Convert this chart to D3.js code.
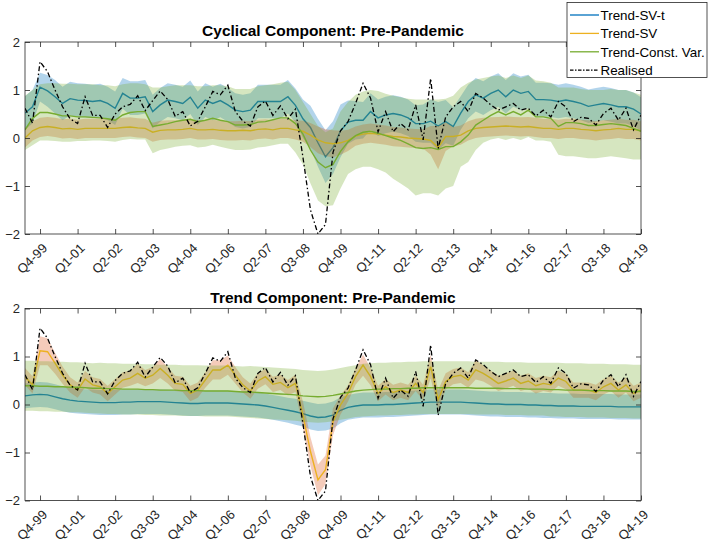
<!DOCTYPE html>
<html><head><meta charset="utf-8">
<script src="https://cdn.jsdelivr.net/npm/d3@7"></script>
<style>
body{margin:0;background:#fff}
svg{display:block}
text{font-family:"Liberation Sans",Arial,Helvetica,sans-serif}
</style>
</head><body>
<svg id="chart" width="708" height="544"></svg>
<script>
// quarters indexed 0..82 : Q2-99 .. Q4-19
const tickIndex = [2,7,12,17,22,27,32,37,42,47,52,57,62,67,72,77,82];
const tickLabels = ["Q4-99","Q1-01","Q2-02","Q3-03","Q4-04","Q1-06","Q2-07","Q3-08","Q4-09","Q1-11","Q2-12","Q3-13","Q4-14","Q1-16","Q2-17","Q3-18","Q4-19"];
const yTicks = [-2,-1,0,1,2];
const seriesNames = ["Trend-SV-t","Trend-SV","Trend-Const. Var.","Realised"];

const realised = [0.62,0.31,1.59,1.38,1.0,0.65,0.4,0.3,0.86,0.47,
 0.47,0.22,0.5,0.65,0.7,0.88,0.57,0.78,0.98,0.8,
 0.45,0.55,0.25,0.35,0.65,0.97,0.9,1.1,0.55,0.35,
 0.25,0.65,0.77,0.47,0.67,0.4,0.6,-0.4,-1.5,-2.0,
 -1.8,-0.3,0.15,0.34,0.72,1.14,0.83,0.13,0.55,0.13,
 0.3,0.17,0.69,-0.04,1.24,-0.22,0.44,0.65,0.76,0.55,
 0.93,0.83,0.69,0.58,0.65,0.72,0.58,0.62,0.46,0.58,
 0.44,0.76,0.65,0.34,0.43,0.41,0.27,0.51,0.62,0.37,
 0.62,0.17,0.48];

// ---- Cyclical component ----
const cycSVt = [0.52,0.65,1.06,0.98,0.86,0.72,0.82,0.79,0.78,0.76,
 0.78,0.72,0.62,0.93,0.83,0.83,0.86,0.55,0.69,0.79,
 0.76,0.72,0.85,0.62,0.79,0.72,0.78,0.69,0.58,0.55,
 0.58,0.76,0.76,0.76,0.76,0.86,0.68,0.4,0.22,-0.1,
 -0.39,-0.2,0.15,0.33,0.37,0.37,0.55,0.42,0.48,0.51,
 0.48,0.42,0.3,0.3,0.35,0.25,0.34,0.24,0.52,0.76,
 0.9,0.83,0.93,1.0,0.86,1.0,0.93,0.97,0.8,0.8,
 0.79,0.76,0.79,0.76,0.72,0.66,0.69,0.72,0.69,0.65,
 0.65,0.6,0.5];
const cycSVtHW = [0.35,0.35,0.3,0.33,0.35,0.35,0.35,0.35,0.35,0.35,
 0.35,0.35,0.35,0.32,0.35,0.35,0.35,0.35,0.35,0.35,
 0.35,0.35,0.35,0.35,0.35,0.35,0.35,0.35,0.35,0.35,
 0.35,0.35,0.35,0.35,0.35,0.35,0.35,0.4,0.45,0.5,
 0.55,0.55,0.55,0.45,0.4,0.38,0.38,0.38,0.38,0.38,
 0.38,0.38,0.38,0.4,0.45,0.5,0.45,0.4,0.35,0.35,
 0.35,0.35,0.35,0.35,0.35,0.35,0.35,0.35,0.35,0.35,
 0.35,0.35,0.35,0.35,0.35,0.35,0.35,0.35,0.35,0.35,
 0.35,0.35,0.35];
const cycSV = [0.0,0.15,0.22,0.24,0.22,0.19,0.2,0.18,0.2,0.2,
 0.2,0.2,0.2,0.22,0.23,0.21,0.2,0.12,0.16,0.17,
 0.17,0.18,0.2,0.17,0.17,0.18,0.16,0.15,0.15,0.16,
 0.15,0.18,0.19,0.17,0.2,0.2,0.17,0.14,0.06,-0.04,
 -0.1,-0.12,-0.1,-0.05,0.04,0.08,0.1,0.08,0.06,0.03,
 0.02,0.0,-0.01,-0.02,-0.05,-0.2,0.03,0.03,0.06,0.15,
 0.2,0.22,0.23,0.24,0.25,0.24,0.23,0.24,0.22,0.2,
 0.2,0.18,0.2,0.2,0.18,0.17,0.15,0.17,0.18,0.2,
 0.18,0.18,0.15];
const cycSVHW = [0.2,0.2,0.2,0.2,0.2,0.2,0.2,0.2,0.2,0.2,
 0.2,0.2,0.2,0.2,0.2,0.2,0.2,0.2,0.2,0.2,
 0.2,0.2,0.2,0.2,0.2,0.2,0.2,0.2,0.2,0.2,
 0.2,0.2,0.2,0.2,0.2,0.2,0.2,0.22,0.25,0.28,
 0.28,0.28,0.25,0.22,0.2,0.2,0.2,0.2,0.2,0.2,
 0.2,0.2,0.2,0.2,0.3,0.45,0.3,0.2,0.2,0.2,
 0.2,0.2,0.2,0.2,0.2,0.2,0.2,0.2,0.2,0.2,
 0.2,0.2,0.2,0.2,0.2,0.2,0.2,0.2,0.2,0.2,
 0.2,0.2,0.2];
const cycCV = [0.17,0.41,0.53,0.53,0.5,0.46,0.46,0.44,0.44,0.43,
 0.42,0.4,0.37,0.48,0.53,0.55,0.55,0.24,0.27,0.3,
 0.34,0.37,0.39,0.34,0.37,0.41,0.37,0.34,0.27,0.27,
 0.28,0.33,0.34,0.38,0.42,0.42,0.3,0.08,-0.25,-0.5,
 -0.62,-0.55,-0.28,-0.08,0.05,0.12,0.14,0.1,0.05,0.0,
 -0.05,-0.12,-0.2,-0.22,-0.2,-0.24,-0.18,-0.18,-0.08,0.06,
 0.27,0.37,0.47,0.55,0.48,0.55,0.48,0.58,0.44,0.44,
 0.41,0.24,0.32,0.32,0.3,0.26,0.26,0.28,0.3,0.28,
 0.26,0.2,0.14];
const cycCVHi = [0.88,1.0,1.12,1.14,1.14,1.13,1.13,1.12,1.12,1.12,
 1.1,1.1,1.08,1.12,1.14,1.14,1.12,1.05,1.05,1.08,
 1.1,1.1,1.1,1.08,1.08,1.1,1.1,1.08,1.02,1.02,
 1.02,1.08,1.1,1.12,1.15,1.17,1.0,0.75,0.5,0.25,
 0.12,0.2,0.55,0.75,0.9,0.97,1.0,0.98,0.92,0.88,
 0.85,0.82,0.8,0.8,0.8,0.8,0.82,0.88,1.05,1.15,
 1.22,1.25,1.28,1.3,1.25,1.3,1.25,1.3,1.2,1.18,
 1.15,1.05,1.05,1.05,1.02,1.0,1.0,1.0,1.02,1.0,
 1.0,0.95,0.9];
const cycCVLo = [-0.25,-0.15,-0.05,-0.05,-0.06,-0.08,-0.08,-0.06,-0.06,-0.05,
 -0.05,-0.06,-0.08,-0.04,-0.02,-0.03,-0.03,-0.32,-0.25,-0.22,
 -0.18,-0.16,-0.15,-0.2,-0.18,-0.14,-0.18,-0.22,-0.25,-0.25,
 -0.24,-0.2,-0.18,-0.15,-0.12,-0.12,-0.3,-0.55,-0.95,-1.3,
 -1.42,-1.4,-1.05,-0.75,-0.65,-0.6,-0.6,-0.65,-0.72,-0.85,
 -0.95,-1.05,-1.2,-1.15,-1.15,-1.2,-1.05,-1.0,-0.6,-0.5,
 -0.25,-0.1,-0.03,0.0,-0.04,0.0,-0.04,0.02,-0.05,-0.05,
 -0.08,-0.35,-0.38,-0.38,-0.4,-0.42,-0.42,-0.4,-0.38,-0.4,
 -0.42,-0.45,-0.45];

// ---- Trend component ----
const trdSVt = [0.18,0.2,0.21,0.2,0.16,0.12,0.09,0.07,0.06,0.05,
 0.04,0.04,0.04,0.05,0.05,0.06,0.06,0.06,0.06,0.05,
 0.04,0.03,0.02,0.02,0.03,0.03,0.03,0.03,0.02,0.01,
 0.0,-0.01,-0.03,-0.06,-0.09,-0.12,-0.15,-0.19,-0.24,-0.27,
 -0.26,-0.22,-0.12,-0.06,-0.03,-0.01,-0.01,-0.01,0.0,0.0,
 0.01,0.02,0.03,0.04,0.05,0.05,0.05,0.05,0.05,0.04,
 0.03,0.02,0.01,0.01,0.0,0.0,0.0,-0.01,-0.01,-0.02,
 -0.02,-0.03,-0.03,-0.03,-0.04,-0.04,-0.04,-0.04,-0.04,-0.05,
 -0.05,-0.05,-0.05];
const trdSVtHW = [0.26,0.26,0.26,0.26,0.26,0.26,0.26,0.26,0.26,0.26,
 0.26,0.26,0.26,0.26,0.26,0.26,0.26,0.26,0.26,0.26,
 0.26,0.26,0.26,0.26,0.26,0.26,0.26,0.26,0.26,0.26,
 0.26,0.26,0.26,0.26,0.26,0.26,0.27,0.27,0.28,0.28,
 0.28,0.28,0.27,0.26,0.26,0.26,0.26,0.26,0.26,0.26,
 0.26,0.26,0.26,0.26,0.26,0.26,0.26,0.26,0.26,0.26,
 0.26,0.26,0.26,0.26,0.26,0.26,0.26,0.26,0.26,0.26,
 0.26,0.26,0.26,0.26,0.26,0.26,0.26,0.26,0.26,0.26,
 0.26,0.26,0.26];
const trdSV = [0.58,0.41,1.12,1.1,0.86,0.61,0.41,0.3,0.53,0.41,
 0.37,0.23,0.37,0.51,0.55,0.65,0.55,0.61,0.75,0.61,
 0.44,0.42,0.23,0.3,0.51,0.72,0.72,0.82,0.61,0.41,
 0.28,0.49,0.58,0.42,0.46,0.35,0.44,-0.22,-0.98,-1.57,
 -1.36,-0.36,-0.01,0.23,0.58,0.82,0.58,0.23,0.37,0.25,
 0.3,0.25,0.44,0.25,0.79,0.1,0.48,0.58,0.61,0.51,
 0.72,0.65,0.55,0.44,0.49,0.55,0.44,0.49,0.39,0.44,
 0.41,0.55,0.48,0.3,0.3,0.3,0.25,0.37,0.44,0.3,
 0.41,0.23,0.3];
const trdSVHW = [0.18,0.18,0.3,0.28,0.22,0.18,0.16,0.16,0.17,0.16,
 0.16,0.16,0.16,0.16,0.16,0.2,0.17,0.17,0.2,0.17,
 0.16,0.16,0.16,0.16,0.16,0.2,0.2,0.2,0.17,0.16,
 0.16,0.16,0.16,0.16,0.16,0.16,0.18,0.28,0.3,0.32,
 0.3,0.28,0.2,0.17,0.17,0.22,0.18,0.16,0.16,0.16,
 0.16,0.16,0.16,0.16,0.25,0.2,0.17,0.16,0.16,0.16,
 0.2,0.17,0.16,0.16,0.16,0.16,0.16,0.16,0.16,0.16,
 0.16,0.16,0.16,0.16,0.16,0.16,0.16,0.16,0.16,0.16,
 0.16,0.16,0.16];
const trdCV = [0.39,0.39,0.38,0.38,0.37,0.37,0.36,0.36,0.35,0.34,
 0.34,0.33,0.33,0.32,0.32,0.32,0.31,0.31,0.3,0.3,
 0.3,0.29,0.29,0.29,0.28,0.28,0.28,0.28,0.27,0.26,
 0.26,0.25,0.24,0.23,0.22,0.21,0.2,0.18,0.17,0.16,
 0.17,0.19,0.22,0.25,0.28,0.3,0.31,0.32,0.32,0.33,
 0.33,0.34,0.34,0.35,0.35,0.35,0.35,0.35,0.35,0.35,
 0.34,0.34,0.34,0.34,0.33,0.33,0.33,0.32,0.32,0.32,
 0.31,0.31,0.3,0.3,0.3,0.29,0.29,0.29,0.28,0.28,
 0.28,0.27,0.27];
const trdCVHW = [0.52,0.52,0.52,0.52,0.52,0.52,0.52,0.52,0.52,0.52,
 0.53,0.53,0.53,0.53,0.53,0.53,0.53,0.53,0.53,0.53,
 0.53,0.53,0.53,0.53,0.53,0.53,0.53,0.53,0.53,0.53,
 0.54,0.54,0.54,0.54,0.54,0.54,0.54,0.54,0.54,0.54,
 0.54,0.54,0.54,0.54,0.54,0.55,0.55,0.55,0.55,0.55,
 0.55,0.55,0.55,0.55,0.55,0.55,0.55,0.55,0.55,0.55,
 0.55,0.55,0.55,0.55,0.55,0.55,0.55,0.55,0.55,0.55,
 0.56,0.56,0.56,0.56,0.56,0.56,0.56,0.56,0.56,0.56,
 0.56,0.56,0.56];

const colBlue = "#0072BD", colYellow = "#EDB120", colOrange = "#D95319", colGreen = "#77AC30";
const AXC = "#262626";

const svg = d3.select("#chart");
const x = d3.scaleLinear().domain([0, 82]).range([25, 641]);

function panel(top, title, bands, id) {
  const H = 192;
  const y = d3.scaleLinear().domain([-2, 2]).range([top + H, top]);
  const g = svg.append("g");
  g.append("clipPath").attr("id", id).append("rect")
    .attr("x", 25).attr("y", top).attr("width", 616).attr("height", H);
  const plot = g.append("g").attr("clip-path", `url(#${id})`);
  const area = d3.area().x((d, i) => x(i)).y0(d => y(d[0])).y1(d => y(d[1]));
  const line = d3.line().x((d, i) => x(i)).y(d => y(d));
  bands.forEach(b => {
    const pts = b.lo.map((v, i) => [v, b.hi[i]]);
    plot.append("path").attr("d", area(pts)).attr("fill", b.fill).attr("fill-opacity", 0.3).attr("stroke", "none");
    plot.append("path").attr("d", line(b.mid)).attr("fill", "none").attr("stroke", b.color).attr("stroke-width", 1.4);
  });
  plot.append("path").attr("d", line(realised)).attr("fill", "none").attr("stroke", "#000")
    .attr("stroke-width", 1.3).attr("stroke-dasharray", "5,2.5,1.5,2.5");

  // axes
  const ax = g.append("g").attr("transform", `translate(0,${top + H})`)
    .call(d3.axisBottom(x).tickValues(tickIndex).tickSize(-5).tickSizeOuter(0).tickFormat(""));
  const axT = g.append("g").attr("transform", `translate(0,${top})`)
    .call(d3.axisTop(x).tickValues(tickIndex).tickSize(-5).tickSizeOuter(0).tickFormat(""));
  const ay = g.append("g").attr("transform", `translate(25,0)`)
    .call(d3.axisLeft(y).tickValues(yTicks).tickSize(-5).tickSizeOuter(0).tickPadding(5).tickFormat(d3.format("d")));
  const ayR = g.append("g").attr("transform", `translate(641,0)`)
    .call(d3.axisRight(y).tickValues(yTicks).tickSize(-5).tickSizeOuter(0).tickFormat(""));
  [ax, axT, ay, ayR].forEach(a => {
    a.select(".domain").remove();
    a.selectAll("line").attr("stroke", AXC).attr("stroke-width", 0.8);
  });
  ay.selectAll("text").attr("font-size", 13).attr("fill", AXC);
  g.append("rect").attr("x", 25).attr("y", top).attr("width", 616).attr("height", H)
    .attr("fill", "none").attr("stroke", AXC).attr("stroke-width", 0.8);

  // rotated x labels
  tickIndex.forEach((t, k) => {
    g.append("text").attr("transform", `translate(${x(t) + 8},${top + H + 15}) rotate(-45)`)
      .attr("text-anchor", "end").attr("font-size", 13).attr("fill", AXC).text(tickLabels[k]);
  });
  g.append("text").attr("x", 333).attr("y", top - 6).attr("text-anchor", "middle")
    .attr("font-size", 15.5).attr("font-weight", "bold").attr("fill", "#000").text(title);
}

function makeBand(mid, hw, color, fill) {
  return { mid, lo: mid.map((v, i) => v - hw[i]), hi: mid.map((v, i) => v + hw[i]), color, fill };
}

panel(42, "Cyclical Component: Pre-Pandemic", [
  makeBand(cycSVt, cycSVtHW, colBlue, colBlue),
  makeBand(cycSV, cycSVHW, colYellow, colOrange),
  { mid: cycCV, lo: cycCVLo, hi: cycCVHi, color: colGreen, fill: colGreen }
], "clipTop");

panel(308.5, "Trend Component: Pre-Pandemic", [
  makeBand(trdSVt, trdSVtHW, colBlue, colBlue),
  makeBand(trdSV, trdSVHW, colYellow, colOrange),
  makeBand(trdCV, trdCVHW, colGreen, colGreen)
], "clipBot");

// legend
const lg = svg.append("g");
lg.append("rect").attr("x", 567).attr("y", 2.5).attr("width", 140).attr("height", 75)
  .attr("fill", "#fff").attr("stroke", AXC).attr("stroke-width", 0.8);
const legCols = [colBlue, colYellow, colGreen, "#000"];
seriesNames.forEach((n, k) => {
  const yy = 15 + k * 18.4;
  const l = lg.append("line").attr("x1", 570).attr("x2", 599).attr("y1", yy).attr("y2", yy)
    .attr("stroke", legCols[k]).attr("stroke-width", 1.3);
  if (k === 3) l.attr("stroke-dasharray", "3.5,1.5,1.5,1.5");
  lg.append("text").attr("x", 600.5).attr("y", yy + 4.7).attr("font-size", 13.4).attr("fill", "#000").text(n);
});
</script>
</body></html>
